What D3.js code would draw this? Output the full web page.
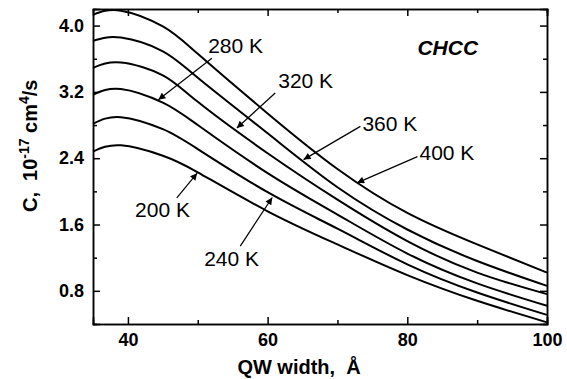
<!DOCTYPE html>
<html>
<head>
<meta charset="utf-8">
<script src="https://cdn.jsdelivr.net/npm/d3@7"></script>
<style>
    body { margin: 0; background: #fff; }
    svg { display: block; font-family: "Liberation Sans", Arial, sans-serif; }
    .axis path, .axis line { stroke: #000; stroke-width: 1.5; }
    .axis text { font-weight: bold; font-size: 18px; fill: #000; font-family: "Liberation Sans", Arial, sans-serif; }
    .curve { fill: none; stroke: #000; stroke-width: 2; }
    .arrow { stroke: #000; stroke-width: 1.2; }
    .tempLabel { font-size: 21px; fill: #000; }
</style>
</head>
<body>
<script>
//QW width values (Angstrom) where the curves were read
var widths = [35, 39, 45, 50, 60, 70, 80, 90, 100];

//Auger coefficient C, 10^-17 cm^4/s, one array per temperature
var c400 = [4.13, 4.18, 3.99, 3.66, 2.94, 2.27, 1.74, 1.36, 1.02];
var c360 = [3.815, 3.855, 3.69, 3.37, 2.70, 2.05, 1.54, 1.16, 0.86];
var c320 = [3.49, 3.555, 3.40, 3.08, 2.46, 1.90, 1.40, 1.02, 0.76];
var c280 = [3.165, 3.235, 3.07, 2.80, 2.22, 1.72, 1.25, 0.89, 0.62];
var c240 = [2.815, 2.895, 2.75, 2.51, 1.99, 1.55, 1.12, 0.78, 0.51];
var c200 = [2.48, 2.555, 2.43, 2.23, 1.76, 1.36, 0.99, 0.68, 0.42];

var seriesList = [c400, c360, c320, c280, c240, c200];

//tick values
var xMajor = [40, 60, 80, 100];
var xMinor = [50, 70, 90];
var yMajor = [0.8, 1.6, 2.4, 3.2, 4.0];
var yMinor = [1.2, 2.0, 2.8, 3.6];

//temperature labels with arrows, in data units [width, C]
var annLabels = ["280 K", "320 K", "360 K", "400 K", "200 K", "240 K"];
var annTips =   [[44.36, 3.105], [55.6, 2.764], [65.15, 2.383], [72.81, 2.103], [49.91, 2.22], [60.66, 1.926]];
var annStarts = [[52.02, 3.607], [61.09, 3.186], [73.28, 2.784], [81.45, 2.419], [47.0, 1.922], [56.08, 1.34]];
var annText =   [[51.49, 3.671], [61.52, 3.249], [73.57, 2.732], [81.74, 2.383], [41.02, 1.685], [50.91, 1.095]];

//frame dimensions
var width = 567,
    height = 379,
    margin = {top: 9, right: 20, bottom: 55, left: 93},
    innerWidth = width - margin.left - margin.right,
    innerHeight = height - margin.top - margin.bottom;

var svg = d3.select("body")
    .append("svg")
    .attr("width", width)
    .attr("height", height);

//arrow head marker
svg.append("defs").append("marker")
    .attr("id", "head")
    .attr("viewBox", "0 0 10 10")
    .attr("refX", 10)
    .attr("refY", 5)
    .attr("markerWidth", 8)
    .attr("markerHeight", 7)
    .attr("markerUnits", "userSpaceOnUse")
    .attr("orient", "auto")
    .append("path")
    .attr("d", "M0,0L10,5L0,10z")
    .attr("fill", "#000");

var g = svg.append("g")
    .attr("transform", "translate(" + margin.left + "," + margin.top + ")");

var x = d3.scaleLinear()
    .domain([35, 100])
    .range([0, innerWidth]);

var y = d3.scaleLinear()
    .domain([0.4, 4.2])
    .range([innerHeight, 0]);

//helper for tick-only axes (no labels)
function plainAxis(axis, shift){
    var ax = g.append("g")
        .attr("class", "axis")
        .attr("transform", shift)
        .call(axis);
    ax.selectAll("text").remove();
    return ax;
};

//axes, ticks pointing inward
g.append("g")
    .attr("class", "axis")
    .attr("transform", "translate(0," + innerHeight + ")")
    .call(d3.axisBottom(x).tickValues(xMajor).tickSize(-7).tickPadding(9).tickFormat(d3.format("d")));

g.append("g")
    .attr("class", "axis")
    .call(d3.axisLeft(y).tickValues(yMajor).tickSize(-7).tickPadding(9).tickFormat(d3.format(".1f")));

plainAxis(d3.axisBottom(x).tickValues(xMinor).tickSize(-4), "translate(0," + innerHeight + ")");
plainAxis(d3.axisTop(x).tickValues(xMajor).tickSize(-7), null);
plainAxis(d3.axisTop(x).tickValues(xMinor).tickSize(-4), null);
plainAxis(d3.axisLeft(y).tickValues(yMinor).tickSize(-4), null);
plainAxis(d3.axisRight(y).tickValues(yMajor).tickSize(-7), "translate(" + innerWidth + ",0)");
plainAxis(d3.axisRight(y).tickValues(yMinor).tickSize(-4), "translate(" + innerWidth + ",0)");

g.selectAll(".axis path.domain").attr("stroke-width", 1.8);

//curves
var line = d3.line()
    .x(function(d, i){ return x(widths[i]); })
    .y(function(d){ return y(d); })
    .curve(d3.curveNatural);

g.selectAll(".curve")
    .data(seriesList)
    .enter()
    .append("path")
    .attr("class", "curve")
    .attr("d", line);

//arrows and temperature labels
g.selectAll(".arrow")
    .data(annTips)
    .enter()
    .append("line")
    .attr("class", "arrow")
    .attr("x1", function(d, i){ return x(annStarts[i][0]); })
    .attr("y1", function(d, i){ return y(annStarts[i][1]); })
    .attr("x2", function(d){ return x(d[0]); })
    .attr("y2", function(d){ return y(d[1]); })
    .attr("marker-end", "url(#head)");

g.selectAll(".tempLabel")
    .data(annLabels)
    .enter()
    .append("text")
    .attr("class", "tempLabel")
    .attr("x", function(d, i){ return x(annText[i][0]); })
    .attr("y", function(d, i){ return y(annText[i][1]); })
    .text(function(d){ return d; });

//CHCC tag
g.append("text")
    .attr("x", x(81.45))
    .attr("y", y(3.646))
    .attr("font-size", "21px")
    .attr("font-weight", "bold")
    .attr("font-style", "italic")
    .text("CHCC");

//x axis title
svg.append("text")
    .attr("x", margin.left + x(64.5))
    .attr("y", 374)
    .attr("text-anchor", "middle")
    .attr("font-size", "20px")
    .attr("font-weight", "bold")
    .attr("xml:space", "preserve")
    .text("QW width,  Å");

//y axis title with superscripts
var yTitle = svg.append("text")
    .attr("transform", "translate(37," + (margin.top + y(2.55)) + ") rotate(-90)")
    .attr("text-anchor", "middle")
    .attr("font-size", "20px")
    .attr("font-weight", "bold")
    .attr("xml:space", "preserve");

yTitle.append("tspan").text("C,  10");
yTitle.append("tspan").attr("dy", -8).attr("font-size", "14px").text("-17");
yTitle.append("tspan").attr("dy", 8).text(" cm");
yTitle.append("tspan").attr("dy", -8).attr("font-size", "14px").text("4");
yTitle.append("tspan").attr("dy", 8).text("/s");
</script>
</body>
</html>
